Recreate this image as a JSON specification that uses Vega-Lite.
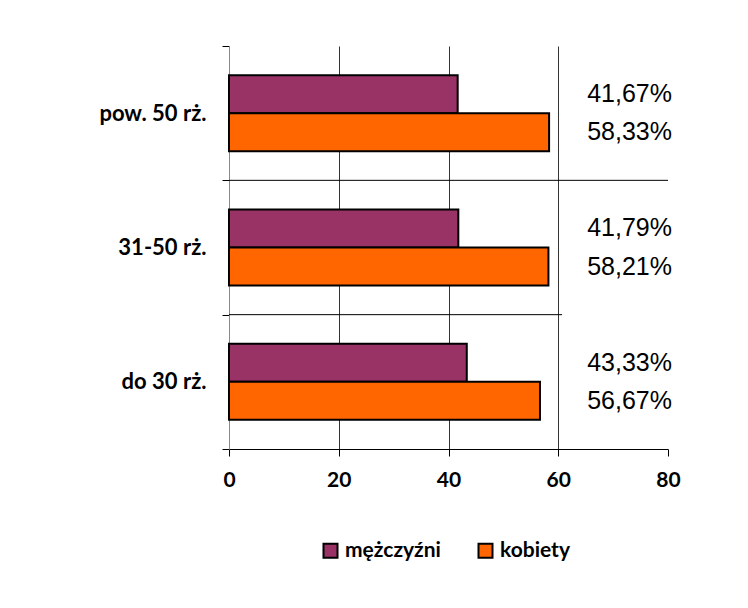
{
  "$schema": "https://vega.github.io/schema/vega-lite/v6.json",
  "width": 439,
  "height": 403,
  "autosize": {"type": "none"},
  "padding": {"left": 229, "top": 46, "right": 80, "bottom": 159},
  "background": "white",
  "config": {
    "locale": {"number": {"decimal": ",", "thousands": " ", "grouping": [3], "currency": ["", "%"]}},
    "view": {"stroke": null},
    "font": "Lato"
  },
  "datasets": {
    "shares": [
      {"grupa": "pow. 50 rż.", "plec": "mężczyźni", "procent": 41.67},
      {"grupa": "pow. 50 rż.", "plec": "kobiety", "procent": 58.33},
      {"grupa": "31-50 rż.", "plec": "mężczyźni", "procent": 41.79},
      {"grupa": "31-50 rż.", "plec": "kobiety", "procent": 58.21},
      {"grupa": "do 30 rż.", "plec": "mężczyźni", "procent": 43.33},
      {"grupa": "do 30 rż.", "plec": "kobiety", "procent": 56.67}
    ],
    "dividers": [
      {"grupa": "31-50 rż.", "od": 0, "do": 80},
      {"grupa": "do 30 rż.", "od": 0, "do": 60.7}
    ]
  },
  "layer": [
    {
      "data": {"name": "shares"},
      "mark": {"type": "bar", "stroke": "#000000", "strokeWidth": 2},
      "encoding": {
        "y": {
          "field": "grupa", "type": "nominal",
          "scale": {"domain": ["pow. 50 rż.", "31-50 rż.", "do 30 rż."], "paddingInner": 0, "paddingOuter": 0},
          "axis": {
            "title": null, "domainColor": "#888888", "domainWidth": 1,
            "tickColor": "#000000", "tickSize": 7, "tickBand": "extent",
            "labelFont": "Lato", "labelFontWeight": "bold", "labelFontSize": 22,
            "labelColor": "#000000", "labelPadding": 16, "grid": false
          }
        },
        "yOffset": {
          "field": "plec", "type": "nominal",
          "scale": {"domain": ["mężczyźni", "kobiety"], "paddingInner": 0, "paddingOuter": 0.767}
        },
        "x": {
          "field": "procent", "type": "quantitative",
          "scale": {"domain": [0, 80], "nice": false},
          "axis": {
            "title": null, "values": [0, 20, 40, 60, 80],
            "domainColor": "#000000", "tickColor": "#000000", "tickSize": 7,
            "labelFont": "Lato", "labelFontWeight": "bold", "labelFontSize": 21,
            "labelColor": "#000000", "labelPadding": 13, "labelFlush": false,
            "grid": true,
            "gridColor": {"condition": {"test": "datum.value === 0 || datum.value === 80", "value": "transparent"}, "value": "#333333"},
            "gridWidth": 1
          }
        },
        "color": {
          "field": "plec", "type": "nominal",
          "scale": {"domain": ["mężczyźni", "kobiety"], "range": ["#993366", "#FF6600"]},
          "legend": {
            "title": null, "orient": "none", "direction": "horizontal",
            "legendX": 91, "legendY": 494,
            "symbolType": "square", "symbolSize": 196,
            "symbolStrokeColor": "#000000", "symbolStrokeWidth": 2, "symbolOpacity": 1,
            "labelFont": "Lato", "labelFontWeight": "bold", "labelFontSize": 21,
            "labelColor": "#000000", "labelOffset": 4, "columnPadding": 33
          }
        }
      }
    },
    {
      "data": {"name": "dividers"},
      "mark": {"type": "rule", "color": "#000000", "strokeWidth": 1},
      "encoding": {
        "y": {"field": "grupa", "type": "nominal", "bandPosition": 0},
        "x": {"field": "od", "type": "quantitative"},
        "x2": {"field": "do"}
      }
    },
    {
      "data": {"name": "shares"},
      "mark": {"type": "text", "font": "Liberation Sans", "fontSize": 25, "color": "#000000", "align": "center", "baseline": "middle"},
      "encoding": {
        "y": {"field": "grupa", "type": "nominal"},
        "yOffset": {"field": "plec", "type": "nominal"},
        "x": {"datum": 73},
        "text": {"field": "procent", "type": "quantitative", "format": "$.2f"}
      }
    }
  ]
}
